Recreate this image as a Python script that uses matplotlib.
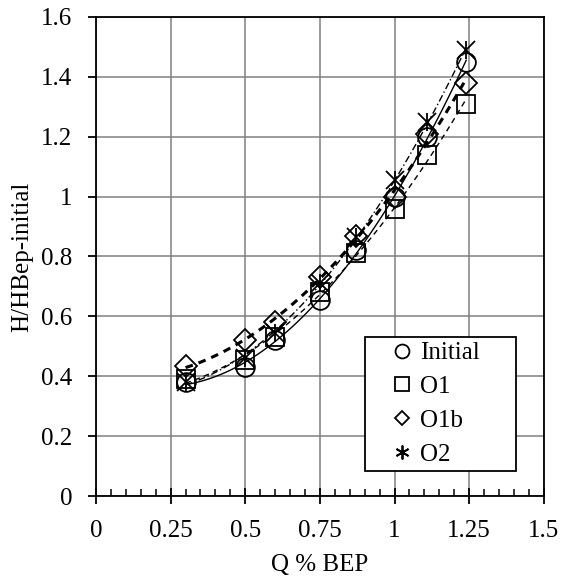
import matplotlib

matplotlib.use("Agg")
import matplotlib.pyplot as plt
import numpy as np
from matplotlib.ticker import MultipleLocator, FuncFormatter

plt.rcParams["font.family"] = ["Liberation Serif", "DejaVu Serif"]

# Q / Q_BEP and H / H_BEP-initial
q = [0.3, 0.5, 0.6, 0.75, 0.87, 1.0, 1.11, 1.24]
initial = [0.38, 0.43, 0.52, 0.655, 0.82, 1.0, 1.2, 1.45]
o1 = [0.39, 0.455, 0.53, 0.68, 0.81, 0.96, 1.14, 1.31]
o1b = [0.435, 0.52, 0.58, 0.73, 0.87, 1.0, 1.21, 1.38]
o2 = [0.38, 0.46, 0.545, 0.71, 0.865, 1.055, 1.25, 1.49]

series = [
    ("Initial", initial, "o", dict(ls="-", lw=1.0)),
    ("O1", o1, "s", dict(ls=(0, (4, 3)), lw=1.0)),
    ("O1b", o1b, "D", dict(ls=(0, (2.5, 2)), lw=2.2)),
    ("O2", o2, "x", dict(ls=(0, (5, 2, 1, 2)), lw=1.0)),
]
sizes = {"o": 13.5, "s": 13.5, "D": 11, "x": 13.5}
leg_sizes = {"o": 10, "s": 10, "D": 7.5, "x": 10}

fig = plt.figure(figsize=(5.63, 5.80), dpi=100, facecolor="white")
ax = fig.add_axes([0.1705, 0.1448, 0.7955, 0.826])

qq = np.array(q)
xs = np.linspace(qq.min(), qq.max(), 100)
for name, vals, mk, lsty in series:
    # quadratic trendline through each series
    c = np.polyfit(qq, vals, 2)
    ax.plot(xs, np.polyval(c, xs), color="black", zorder=3, **lsty)
    ax.plot(q, vals, ls="none", marker=mk, ms=sizes[mk], mfc="none", mec="black",
            mew=1.3, zorder=4)

# O2 asterisk: add a vertical bar to the x marker
ax.plot(q, o2, ls="none", marker="|", ms=13.5, mec="black", mew=1.3, zorder=4)

ax.set_xlim(0, 1.5)
ax.set_ylim(0, 1.6)
ax.xaxis.set_major_locator(MultipleLocator(0.25))
ax.xaxis.set_minor_locator(MultipleLocator(0.05))
ax.yaxis.set_major_locator(MultipleLocator(0.2))
fmt = FuncFormatter(lambda v, p: f"{v:g}")
ax.xaxis.set_major_formatter(fmt)
ax.yaxis.set_major_formatter(fmt)
ax.grid(True, which="major", color="#808080", lw=1.1)
ax.set_axisbelow(True)
for s in ax.spines.values():
    s.set_linewidth(1.3)
    s.set_color("black")
ax.tick_params(axis="x", which="major", direction="inout", length=12, width=1.3,
               labelsize=18, pad=11)
ax.tick_params(axis="x", which="minor", direction="in", length=5, width=1.1)
ax.tick_params(axis="y", which="major", direction="out", length=6, width=1.3,
               labelsize=18, pad=11)
ax.set_xlabel("Q % BEP", fontsize=18, labelpad=9)
ax.set_ylabel("H/HBep-initial", fontsize=18, labelpad=6)

# legend with markers only
leg_handles = []
for name, vals, mk, lsty in series:
    m = (6, 2, 0) if mk == "x" else mk
    lh, = ax.plot([], [], ls="none", marker=m, ms=leg_sizes[mk],
                  mfc="none", mec="black", mew=1.3)
    leg_handles.append(lh)
leg = ax.legend(leg_handles, [s[0] for s in series], loc="upper left",
                bbox_to_anchor=(0.6004, 0.332 - 0.282, 0.337, 0.282), mode="expand",
                fontsize=18, frameon=True, fancybox=False, edgecolor="black",
                handlelength=2.6, handletextpad=-0.6, borderpad=0.2,
                labelspacing=0.45, borderaxespad=0)
leg.get_frame().set_linewidth(1.3)
leg.get_frame().set_alpha(1)
leg.set_zorder(6)

fig.savefig("out.png", dpi=100, facecolor="white")
